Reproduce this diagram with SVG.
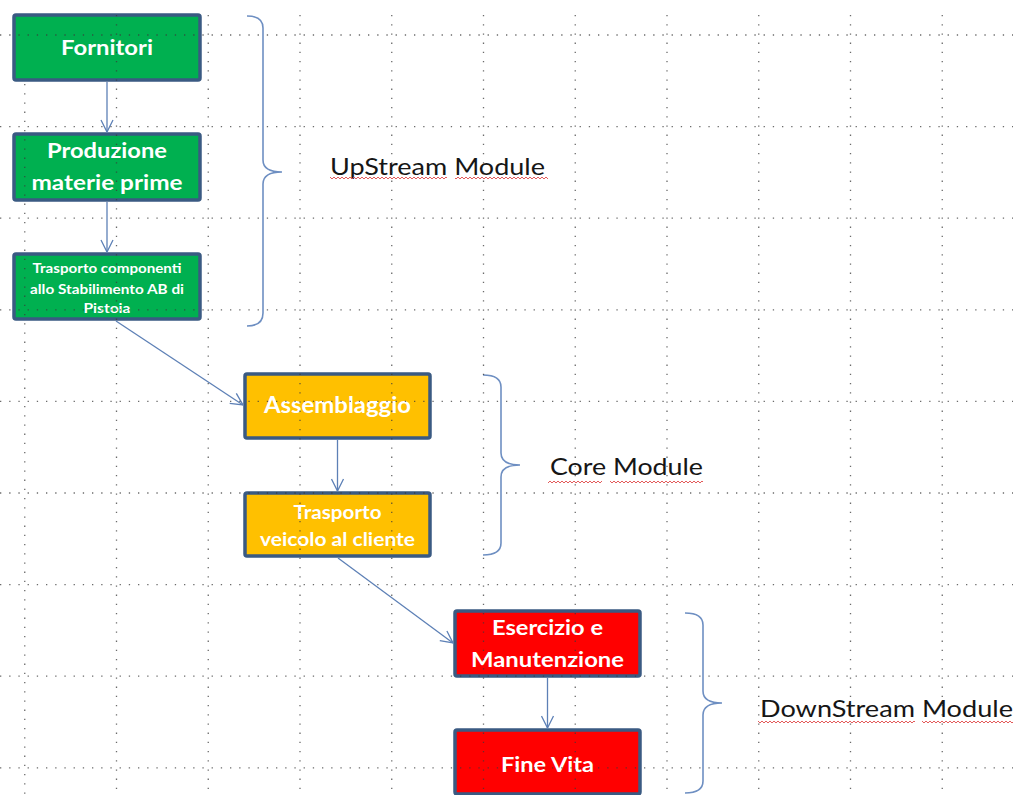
<svg xmlns="http://www.w3.org/2000/svg" width="1013" height="795" viewBox="0 0 1013 795">
<defs>
<style>
.grid line{stroke:#3a3a3a;stroke-width:1.3;stroke-dasharray:1.3 7.9;opacity:.75}
.box{stroke:#3A5A82;stroke-width:3.5}
.green{fill:#00B050}.orange{fill:#FFC000}.red{fill:#FF0000}
.bt{font-family:"Lato","Liberation Sans",sans-serif;font-weight:bold;fill:#fff;text-anchor:middle}
.conn line{stroke:#5D80B6;stroke-width:1.3;fill:none}
.brace{stroke:#6E8FC2;stroke-width:1.6;fill:none}
.lbl{font-family:"Lato","Liberation Sans",sans-serif;font-size:24px;fill:#161616}
.wave{fill:url(#wave)}
</style>
<marker id="arr" viewBox="0 0 14 14" refX="13" refY="7" markerWidth="14" markerHeight="14" markerUnits="userSpaceOnUse" orient="auto">
<path d="M1 1 L13 7 L1 13" fill="none" stroke="#5D80B6" stroke-width="1.3"/>
</marker>
<pattern id="wave" x="0" y="0" width="4" height="4" patternUnits="userSpaceOnUse">
<path d="M0 3 L2 1 L4 3" fill="none" stroke="#E04848" stroke-width="0.9"/>
</pattern>
</defs>
<rect width="1013" height="795" fill="#fff"/>

<g id="node-fornitori"><rect class="box green" x="14" y="15" width="186" height="65" rx="2"/><text class="bt" x="107" y="55" font-size="20" textLength="92" lengthAdjust="spacingAndGlyphs">Fornitori</text></g>
<g id="node-produzione"><rect class="box green" x="14" y="134" width="186" height="66" rx="2"/><text class="bt" x="107" y="158" font-size="21" textLength="120" lengthAdjust="spacingAndGlyphs">Produzione</text><text class="bt" x="107" y="190" font-size="21" textLength="151" lengthAdjust="spacingAndGlyphs">materie prime</text></g>
<g id="node-trasporto-componenti"><rect class="box green" x="14" y="254" width="186" height="65" rx="2"/><text class="bt" x="107" y="273" font-size="13" textLength="149" lengthAdjust="spacingAndGlyphs">Trasporto componenti</text><text class="bt" x="107" y="294" font-size="13" textLength="154" lengthAdjust="spacingAndGlyphs">allo Stabilimento AB di</text><text class="bt" x="107" y="313" font-size="13" textLength="47" lengthAdjust="spacingAndGlyphs">Pistoia</text></g>
<g id="node-assemblaggio"><rect class="box orange" x="245" y="374" width="185" height="64" rx="2"/><text class="bt" x="337.5" y="413" font-size="22" textLength="147" lengthAdjust="spacingAndGlyphs">Assemblaggio</text></g>
<g id="node-trasporto-veicolo"><rect class="box orange" x="245" y="493" width="185" height="63" rx="2"/><text class="bt" x="337.5" y="519" font-size="18" textLength="88" lengthAdjust="spacingAndGlyphs">Trasporto</text><text class="bt" x="337.5" y="546" font-size="18" textLength="155" lengthAdjust="spacingAndGlyphs">veicolo al cliente</text></g>
<g id="node-esercizio"><rect class="box red" x="455" y="611" width="185" height="65" rx="2"/><text class="bt" x="547.5" y="635" font-size="20" textLength="111" lengthAdjust="spacingAndGlyphs">Esercizio e</text><text class="bt" x="547.5" y="667" font-size="20" textLength="153" lengthAdjust="spacingAndGlyphs">Manutenzione</text></g>
<g id="node-fine-vita"><rect class="box red" x="455" y="730" width="185" height="64" rx="2"/><text class="bt" x="547.5" y="772" font-size="21" textLength="93" lengthAdjust="spacingAndGlyphs">Fine Vita</text></g>

<g id="connectors" class="conn">
<line x1="107" y1="82" x2="107" y2="132" marker-end="url(#arr)"/>
<line x1="107" y1="202" x2="107" y2="252" marker-end="url(#arr)"/>
<line x1="116" y1="321" x2="243" y2="405" marker-end="url(#arr)"/>
<line x1="337.5" y1="440" x2="337.5" y2="491" marker-end="url(#arr)"/>
<line x1="338" y1="558" x2="453" y2="643" marker-end="url(#arr)"/>
<line x1="547.5" y1="678" x2="547.5" y2="728" marker-end="url(#arr)"/>
</g>

<g id="brace-upstream"><path class="brace" d="M247 16 Q263 16 263 28 L263 160 Q263 172 282 172 Q263 172 263 184 L263 313 Q263 326 247 326"/></g>
<g id="brace-core"><path class="brace" d="M483 375 Q501 375 501 387 L501 453 Q501 465 520 465 Q501 465 501 477 L501 543 Q501 555 483 555"/></g>
<g id="brace-downstream"><path class="brace" d="M685 613 Q703 613 703 625 L703 691 Q703 703 722 703 Q703 703 703 715 L703 781 Q703 793 685 793"/></g>

<g id="label-upstream"><text class="lbl" x="330" y="175" textLength="215" lengthAdjust="spacingAndGlyphs">UpStream Module</text><rect class="wave" x="330" y="177" width="117" height="4"/><rect class="wave" x="455" y="177" width="93" height="4"/></g>
<g id="label-core"><text class="lbl" x="550" y="475" textLength="153" lengthAdjust="spacingAndGlyphs">Core Module</text><rect class="wave" x="548" y="480" width="54" height="4"/><rect class="wave" x="610" y="480" width="93" height="4"/></g>
<g id="label-downstream"><text class="lbl" x="760" y="717" textLength="253" lengthAdjust="spacingAndGlyphs">DownStream Module</text><rect class="wave" x="758" y="720" width="157" height="4"/><rect class="wave" x="922" y="720" width="91" height="4"/></g>

<g class="grid">
<line x1="24.75" y1="84" x2="24.75" y2="795"/>
<line x1="116.5" y1="15" x2="116.5" y2="795"/>
<line x1="208.25" y1="15" x2="208.25" y2="795"/>
<line x1="300" y1="15" x2="300" y2="795"/>
<line x1="391.75" y1="15" x2="391.75" y2="795"/>
<line x1="483.5" y1="15" x2="483.5" y2="795"/>
<line x1="575.25" y1="15" x2="575.25" y2="795"/>
<line x1="667" y1="15" x2="667" y2="795"/>
<line x1="758.75" y1="15" x2="758.75" y2="795"/>
<line x1="850.5" y1="15" x2="850.5" y2="795"/>
<line x1="942.25" y1="15" x2="942.25" y2="795"/>
<line x1="0" y1="35" x2="1013" y2="35"/>
<line x1="0" y1="126.6" x2="1013" y2="126.6"/>
<line x1="0" y1="218.2" x2="1013" y2="218.2"/>
<line x1="0" y1="309.8" x2="1013" y2="309.8"/>
<line x1="0" y1="401.4" x2="1013" y2="401.4"/>
<line x1="0" y1="493" x2="1013" y2="493"/>
<line x1="0" y1="584.6" x2="1013" y2="584.6"/>
<line x1="0" y1="676.2" x2="1013" y2="676.2"/>
<line x1="0" y1="767.8" x2="1013" y2="767.8"/>
</g>
</svg>
